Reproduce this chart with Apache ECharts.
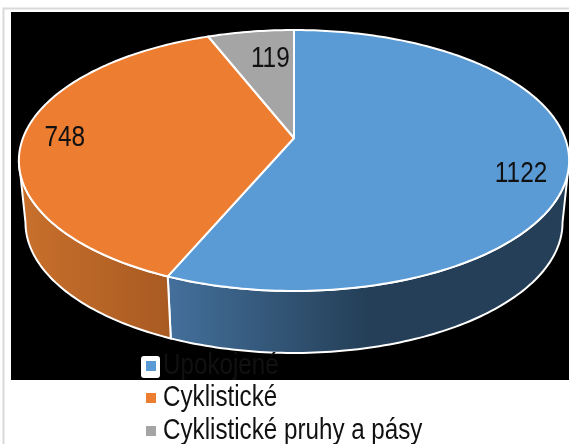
<!DOCTYPE html>
<html>
<head>
<meta charset="utf-8">
<style>
  html, body { margin: 0; padding: 0; background: #fff; }
  #chart { width: 569px; height: 444px; }
</style>
<script src="https://cdn.jsdelivr.net/npm/echarts@6/dist/echarts.min.js"></script>
</head>
<body>
<div id="chart"></div>
<script>
var categories = ['Upokojené', 'Cyklistické', 'Cyklistické pruhy a pásy'];
var values = [1122, 748, 119];
var colors = ['#5b9bd5', '#ed7d31', '#a5a5a5'];

var myChart = echarts.init(document.getElementById('chart'));
var total = values.reduce(function (a, b) { return a + b; }, 0);
var fontName = '"Liberation Sans", Arial, sans-serif';

// tilted disc: unit circle -> screen, far edge is smaller
var cx = 294, cy = 138, rx = 271, ry = 126.6, persp = 0.1724;
var depth = 62, bottomScale = 0.976;
var edgeAngle = Math.acos(-persp) * 180 / Math.PI; // where the outline is widest

function project(deg, r, bottom) {
    var a = deg * Math.PI / 180;
    var u = Math.sin(a) * r, v = Math.cos(a) * r;
    var w = 1 + persp * v;
    var sx = bottom ? bottomScale : 1;
    return [cx + rx * sx * u / w, cy - ry * v / w + (bottom ? depth : 0)];
}

function arc(from, to, bottom) {
    var pts = [], n = Math.max(2, Math.ceil(Math.abs(to - from)));
    for (var i = 0; i <= n; i++) {
        pts.push(project(from + (to - from) * i / n, 1, bottom));
    }
    return pts;
}

// side wall fills
var sideFill = [
    [{ offset: 0, color: '#44709c' }, { offset: 0.5, color: '#243f57' }, { offset: 1, color: '#243f57' }],
    [{ offset: 0, color: '#c9702c' }, { offset: 1, color: '#a85a22' }]
];
// label placement along each slice's middle angle
var labelRadius = [0.82, 0.84, 0.75];
var labelShift = [[3, 15], [-2, 1], [10, 4]];

function renderSlice(params, api) {
    var idx = params.seriesIndex;
    var start = echarts.number.linearMap(api.value(0), [0, total], [0, 360]);
    var end = echarts.number.linearMap(api.value(1), [0, total], [0, 360]);
    var children = [];

    // side wall, only the part facing the viewer
    var from = Math.max(start, edgeAngle), to = Math.min(end, 360 - edgeAngle);
    if (to > from) {
        children.push({
            type: 'polygon',
            z2: 1,
            shape: { points: arc(from, to, false).concat(arc(to, from, true)) },
            style: {
                fill: new echarts.graphic.LinearGradient(0, 0, 1, 0, sideFill[idx]),
                stroke: '#fff',
                lineWidth: 2
            }
        });
    }

    // top face
    children.push({
        type: 'polygon',
        z2: 2,
        shape: { points: [[cx, cy]].concat(arc(start, end, false)) },
        style: { fill: colors[idx], stroke: '#fff', lineWidth: 2, lineJoin: 'round' }
    });

    var p = project((start + end) / 2, labelRadius[idx], false);
    children.push({
        type: 'text',
        z2: 3,
        x: p[0] + labelShift[idx][0],
        y: p[1] + labelShift[idx][1],
        scaleX: 0.84, // the original text is a narrow face
        style: {
            text: String(values[idx]),
            fill: '#111',
            font: '29px ' + fontName,
            align: 'center',
            verticalAlign: 'middle'
        }
    });
    return { type: 'group', children: children };
}

var sum = 0;
var series = categories.map(function (name, i) {
    var s = {
        type: 'custom',
        name: name,
        coordinateSystem: 'none',
        renderItem: renderSlice,
        itemStyle: { color: colors[i] },
        silent: true,
        data: [[sum, sum + values[i]]]
    };
    sum += values[i];
    return s;
});

// legend drawn by hand so its text can be squeezed like the original
var legendRows = [366, 398, 431];
var legendItems = [];
categories.forEach(function (name, i) {
    legendItems.push({
        type: 'rect',
        z: 5,
        shape: { x: 146, y: legendRows[i] - 5, width: 10, height: 10 },
        style: { fill: colors[i] }
    });
    legendItems.push({
        type: 'text',
        z: 5,
        x: 163,
        y: legendRows[i],
        scaleX: 0.82,
        style: {
            text: name,
            fill: '#111',
            font: '29.5px ' + fontName,
            align: 'left',
            verticalAlign: 'middle'
        }
    });
});

var option = {
    animation: false,
    backgroundColor: '#fff',
    graphic: [
        { type: 'rect', z: -3, shape: { x: 3.5, y: 8.5, width: 600, height: 500 }, style: { fill: '#fff', stroke: '#d9d9d9', lineWidth: 2 } },
        { type: 'rect', z: -2, shape: { x: 11, y: 12, width: 558, height: 368 }, style: { fill: '#000' } },
        { type: 'rect', z: 4, shape: { x: 141, y: 356, width: 19, height: 22, r: 3 }, style: { fill: '#fff' } }
    ].concat(legendItems),
    series: series
};

myChart.setOption(option);
</script>
</body>
</html>
